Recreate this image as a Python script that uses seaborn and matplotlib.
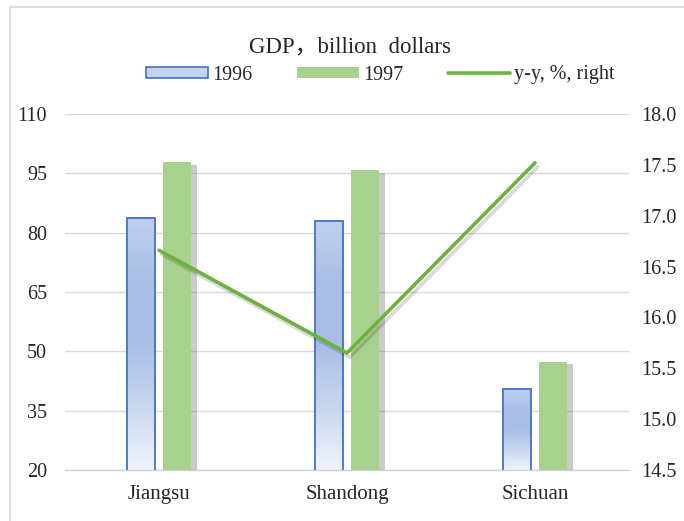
import numpy as np
import pandas as pd
import matplotlib
matplotlib.use("Agg")
import matplotlib.pyplot as plt
import matplotlib.patheffects as pe
from matplotlib.colors import LinearSegmentedColormap
from matplotlib.patches import Patch, Rectangle
from matplotlib.lines import Line2D
import seaborn as sns

# data
provinces = ["Jiangsu", "Shandong", "Sichuan"]
gdp_1996 = [83.8, 82.9, 40.5]
gdp_1997 = [97.8, 95.8, 47.4]
growth_yy = [16.66, 15.65, 17.52]

left_ticks = [20, 35, 50, 65, 80, 95, 110]
right_ticks = [14.5, 15.0, 15.5, 16.0, 16.5, 17.0, 17.5, 18.0]

df = pd.DataFrame({
    "province": provinces * 2,
    "year": ["1996"] * 3 + ["1997"] * 3,
    "gdp": gdp_1996 + gdp_1997,
})

sns.set_theme(style="white")
plt.rcParams["font.family"] = ["Liberation Serif", "DejaVu Serif"]

blue_edge = "#4472c4"
green = "#a9d18e"
line_green = "#6cb23f"
grid_col = "#d9d9d9"
tick_col = "#262626"

fig = plt.figure(figsize=(6.84, 5.21), dpi=100)
ax = fig.add_axes([65 / 684, 1 - 470 / 521, 564 / 684, 356 / 521])

sns.barplot(data=df, x="province", y="gdp", hue="year", ax=ax,
            palette={"1996": "#c5d3ee", "1997": green},
            width=0.384, gap=0.2, legend=False, saturation=1)

ax.set_ylim(20, 110)
ax.set_xlim(-0.5, 2.5)
ax.set_yticks(left_ticks)
ax.set_xlabel("")
ax.set_ylabel("")
ax.grid(axis="y", color=grid_col, lw=1)
ax.set_axisbelow(True)
for s in ["left", "right", "top"]:
    ax.spines[s].set_visible(False)
ax.spines["bottom"].set_color("#c9d4ec")
ax.spines["bottom"].set_linewidth(1)

# gradient fill for the 1996 bars (from axis floor to bar top)
cmap = LinearSegmentedColormap.from_list(
    "g", ["#f0f3fb", "#c9d6f0", "#a9bee6", "#a9bee6", "#c0cfee"])
grad = np.linspace(0, 1, 200).reshape(-1, 1)
floor = ax.get_ylim()[0]
for bar in ax.containers[0]:
    x = bar.get_x()
    w, top = bar.get_width(), bar.get_y() + bar.get_height()
    bar.set_facecolor("none")
    bar.set_edgecolor(blue_edge)
    bar.set_linewidth(1.3)
    bar.set_zorder(3)
    ax.imshow(grad, extent=[x, x + w, floor, top], origin="lower",
              aspect="auto", cmap=cmap, zorder=2.5)
for bar in ax.containers[1]:
    bar.set_linewidth(0)
    bar.set_zorder(3)
    bar.set_path_effects([pe.SimplePatchShadow(offset=(4, -2), shadow_rgbFace="#555555", alpha=0.3),
                          pe.Normal()])
ax.set_ylim(20, 110)
ax.set_xlim(-0.5, 2.5)

ax.tick_params(axis="x", which="major", length=0, labelsize=15, colors=tick_col, pad=11)
ax.tick_params(axis="y", length=0, labelsize=14.5, colors=tick_col, pad=13)
ax.set_xticks(range(len(provinces)))
ax.set_xticklabels(provinces)
ax.set_xticks([-0.5, 0.5, 1.5, 2.5], minor=True)
ax.tick_params(axis="x", which="minor", length=5, color="#c9d4ec", width=1)

ax2 = ax.twinx()
sns.lineplot(x=np.arange(len(provinces)), y=growth_yy, ax=ax2,
             color=line_green, lw=2.6, zorder=5,
             path_effects=[pe.SimpleLineShadow(offset=(2, -3), alpha=0.15, shadow_color="black"),
                           pe.Normal()])
ax2.set_ylim(14.5, 18.0)
ax2.set_yticks(right_ticks)
ax2.set_yticklabels([f"{v:.1f}" for v in right_ticks])
ax2.tick_params(axis="y", length=0, labelsize=14.5, colors=tick_col, pad=9)
ax2.grid(False)
for s in ["left", "right", "top", "bottom"]:
    ax2.spines[s].set_visible(False)
ax2.set_xlim(-0.5, 2.5)

fig.text(350 / 684, 1 - 47 / 521, "GDP，billion  dollars", ha="center", va="center",
         fontsize=16.5, color=tick_col, family=["Liberation Serif", "Noto Sans CJK SC"])

handles = [
    Patch(facecolor="#c5d3ee", edgecolor=blue_edge, lw=1.2, label="1996"),
    Patch(facecolor=green, edgecolor="none", label="1997"),
    Line2D([0], [0], color=line_green, lw=2.6, label="y-y, %, right"),
]
leg = fig.legend(handles=handles, loc="center", bbox_to_anchor=(380 / 684, 1 - 75 / 521),
                 ncol=3, frameon=False, fontsize=14.5, handlelength=3.1, handleheight=0.45,
                 columnspacing=2.2, handletextpad=0.2, labelcolor=tick_col)

# light chart frame
fig.patches.append(Rectangle((10 / 684, -0.02), 1.0, 1 - 7 / 521 + 0.02,
                             transform=fig.transFigure, fill=False,
                             edgecolor="#d9d9d9", lw=1.2))

fig.savefig("out.png", dpi=100)
